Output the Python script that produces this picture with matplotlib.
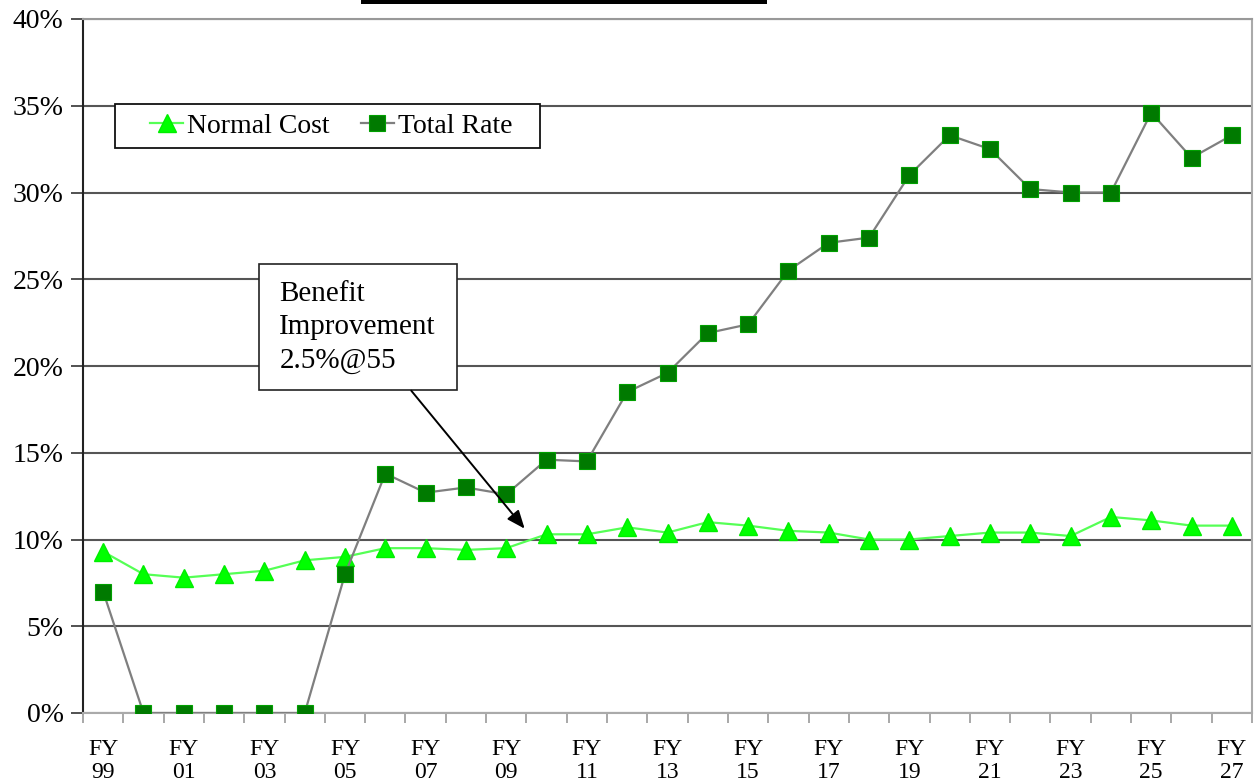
import matplotlib
matplotlib.use("Agg")
import matplotlib.pyplot as plt
from matplotlib.patches import Rectangle
from matplotlib.ticker import FixedLocator, FuncFormatter

# Fiscal years FY99 .. FY27
years = ["99", "00", "01", "02", "03", "04", "05", "06", "07", "08", "09",
         "10", "11", "12", "13", "14", "15", "16", "17", "18", "19", "20",
         "21", "22", "23", "24", "25", "26", "27"]

normal_cost = [9.3, 8.0, 7.8, 8.0, 8.2, 8.8, 9.0, 9.5, 9.5, 9.4, 9.5,
               10.3, 10.3, 10.7, 10.4, 11.0, 10.8, 10.5, 10.4, 10.0, 10.0, 10.2,
               10.4, 10.4, 10.2, 11.3, 11.1, 10.8, 10.8]

total_rate = [7.0, 0.0, 0.0, 0.0, 0.0, 0.0, 8.0, 13.8, 12.7, 13.0, 12.6,
              14.6, 14.5, 18.5, 19.6, 21.9, 22.4, 25.5, 27.1, 27.4, 31.0, 33.3,
              32.5, 30.2, 30.0, 30.0, 34.6, 32.0, 33.3]

y_ticks = [0, 5, 10, 15, 20, 25, 30, 35, 40]

plt.rcParams["font.family"] = ["Liberation Serif", "DejaVu Serif"]

fig = plt.figure(figsize=(12.55, 7.84), dpi=100)
ax = fig.add_axes([83 / 1255, 1 - 713 / 784, (1252 - 83) / 1255, (713 - 19) / 784])

x = list(range(len(years)))

ax.plot(x, normal_cost, color="#55ff55", lw=1.6, marker="^", ms=13.5,
        mfc="#00ff00", mec="#00ee00", label="Normal Cost", zorder=3)
ax.plot(x, total_rate, color="#7f7f7f", lw=1.6, marker="s", ms=11,
        mfc="#007a00", mec="#00a000", mew=0.8, label="Total Rate", zorder=4)

ax.set_xlim(-0.5, len(years) - 0.5)
ax.set_ylim(0, 40)

# y axis: percentage gridlines
ax.yaxis.set_major_locator(FixedLocator(y_ticks))
ax.yaxis.set_major_formatter(FuncFormatter(lambda v, p: f"{v:.0f}%"))
ax.grid(axis="y", color="#555555", lw=1.5, zorder=1)
ax.tick_params(axis="y", direction="out", length=9, width=1.2, color="#333333",
               labelsize=20, pad=5)

# x axis: labels every other year, tick marks between categories
label_pos = x[::2]
ax.set_xticks(label_pos)
ax.set_xticklabels([f"FY\n{years[i]}" for i in label_pos], fontsize=17, linespacing=1.15)
ax.tick_params(axis="x", length=0, pad=18.5)
ax.set_xticks([i - 0.5 for i in range(len(years) + 1)], minor=True)
ax.tick_params(axis="x", which="minor", direction="out", length=7, width=1.2, color="#999999")

for side in ["top", "right", "bottom"]:
    ax.spines[side].set_color("#aaaaaa")
    ax.spines[side].set_linewidth(1.5)
ax.spines["top"].set_color("#999999")
ax.spines["left"].set_color("#222222")
ax.spines["left"].set_linewidth(1.5)

# legend frame drawn separately so the padding around the entries can be set freely
ax.add_patch(Rectangle((0.0274, 0.814), 0.3636, 0.0635, transform=ax.transAxes,
                       facecolor="white", edgecolor="#111111", lw=1.3, zorder=5))
leg = ax.legend(loc="center left", bbox_to_anchor=(0.0573, 0.8458), ncol=2,
                fontsize=20, frameon=False,
                handlelength=1.2, handletextpad=0.15, columnspacing=1.1,
                borderpad=0, borderaxespad=0)
leg.set_zorder(6)

# callout box with arrow
ax.add_patch(Rectangle((3.87, 18.6), 4.9, 7.3, facecolor="white", edgecolor="#222222",
                       lw=1.2, zorder=6))
ax.text(4.37, 24.9, "Benefit\nImprovement\n2.5%@55", fontsize=21, va="top", ha="left",
        linespacing=1.36, zorder=7)
ax.annotate("", xy=(10.5, 10.5), xytext=(7.6, 18.7),
            arrowprops=dict(arrowstyle="-|>,head_length=1.1,head_width=0.45",
                            color="black", lw=1.4), zorder=7)

# underline of the heading at the top edge
fig.add_artist(Rectangle((361 / 1255, 1 - 4 / 784), (767 - 361) / 1255, 4 / 784,
                         transform=fig.transFigure, facecolor="black", edgecolor="none"))

fig.savefig("out.png", dpi=100)
